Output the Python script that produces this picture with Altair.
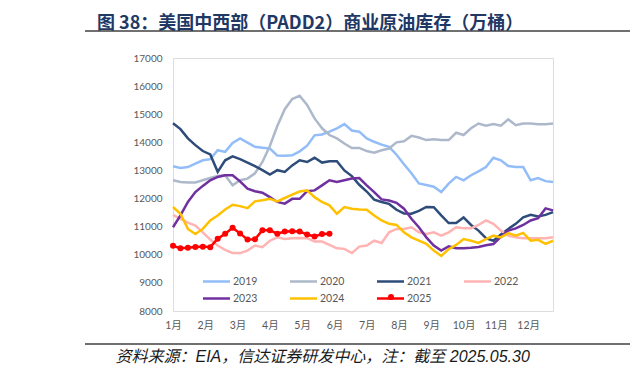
import json
import altair as alt
import pandas as pd

years = ["2019", "2020", "2021", "2022", "2023", "2024", "2025"]
colors = ["#92BDF8", "#ADB9CA", "#2E4C7A", "#FFB3B3", "#7030A0", "#FFC000", "#FF0000"]
month_labels = ["1月", "2月", "3月", "4月", "5月", "6月", "7月", "8月", "9月", "10月", "11月", "12月"]
y_ticks = [8000, 9000, 10000, 11000, 12000, 13000, 14000, 15000, 16000, 17000]

s2019 = [13150, 13090, 13120, 13240, 13360, 13400, 13720, 13660, 13980, 14140, 13990, 13840, 13810,
         13780, 13530, 13520, 13540, 13680, 13880, 14250, 14280, 14380, 14500, 14650, 14420, 14380,
         14140, 14020, 13920, 13840, 13560, 13220, 12900, 12540, 12480, 12420, 12230, 12530, 12770,
         12650, 12830, 12970, 13120, 13450, 13360, 13160, 13120, 13120, 12650, 12730, 12620, 12590]
s2020 = [12650, 12590, 12570, 12570, 12650, 12730, 12800, 12830, 12470, 12650, 12710, 12900, 13300,
         13870, 14580, 15180, 15540, 15660, 15330, 14850, 14500, 14260, 14140, 13960, 13800, 13800,
         13690, 13630, 13720, 13780, 14000, 14040, 14230, 14170, 14080, 14110, 14080, 14080, 14340,
         14260, 14500, 14670, 14590, 14650, 14590, 14820, 14610, 14670, 14670, 14640, 14640, 14670]
s2021 = [14680, 14470, 14140, 13900, 13690, 13570, 12950, 13360, 13500, 13400, 13280, 13150, 13010,
         12850, 13010, 12950, 13180, 13360, 13300, 13450, 13280, 13330, 13330, 13000, 12800, 12490,
         12250, 11960, 11880, 11810, 11600, 11470, 11460, 11560, 11700, 11690, 11400, 11130, 11130,
         11330, 11060, 10860, 10590, 10500, 10720, 10920, 11100, 11330, 11420, 11360, 11420, 11520]
s2022 = [11420, 11280, 11140, 11040, 10800, 10540, 10330, 10170, 10060, 10060, 10150, 10330, 10270,
         10500, 10620, 10560, 10590, 10600, 10590, 10470, 10470, 10350, 10230, 10210, 10060, 10290,
         10330, 10500, 10420, 10800, 10920, 10920, 10980, 10800, 10740, 10800, 10680, 10800, 10980,
         10940, 10940, 11060, 11220, 11100, 10860, 10680, 10620, 10590, 10590, 10590, 10590, 10620]
s2023 = [10980, 11400, 11880, 12230, 12450, 12650, 12770, 12830, 12830, 12610, 12350, 12260, 12210,
         12050, 11880, 11820, 11990, 11990, 12260, 12290, 12470, 12650, 12590, 12650, 12710, 12730,
         12470, 12230, 11970, 11930, 11850, 11640, 11280, 10980, 10620, 10330, 10150, 10300, 10230,
         10230, 10250, 10280, 10340, 10380, 10640, 10860, 10940, 11060, 11220, 11300, 11650, 11580]
s2024 = [11700, 11460, 10920, 10740, 10920, 11220, 11400, 11610, 11780, 11730, 11660, 11900, 11940,
         11990, 11900, 12020, 12140, 12250, 12290, 12050, 11880, 11760, 11460, 11700, 11640, 11610,
         11600, 11400, 11220, 11100, 11060, 10800, 10620, 10500, 10390, 10150, 9960, 10200, 10350,
         10560, 10500, 10420, 10560, 10680, 10620, 10770, 10680, 10780, 10500, 10530, 10390, 10500]
s2025 = [10320, 10230, 10250, 10280, 10290, 10270, 10570, 10750, 10960, 10760, 10540, 10550, 10870,
         10870, 10750, 10830, 10840, 10830, 10720, 10650, 10740, 10750]

series = [s2019, s2020, s2021, s2022, s2023, s2024, s2025]

title_text = "图 38：美国中西部（PADD2）商业原油库存（万桶）"
source_text = "资料来源：EIA，信达证券研发中心，注：截至 2025.05.30"

rows = []
for yr, vals in zip(years, series):
    for w, v in enumerate(vals):
        rows.append({"week": w, "value": v, "year": yr})
df = pd.DataFrame(rows)

weeks_per_year = 52
month_ticks = [i * weeks_per_year / 12 for i in range(12)]
label_expr = json.dumps(month_labels, ensure_ascii=False) + "[round(datum.value*12/52)]"

num_font = "Lato, 'Noto Sans CJK SC'"
grey = "#595959"
last = years[-1]

x_enc = alt.X(
    "week:Q",
    scale=alt.Scale(domain=[0, 51], nice=False, zero=False),
    axis=alt.Axis(
        values=month_ticks, labelExpr=label_expr, grid=False, ticks=False, domain=False,
        labelFont=num_font, labelFontSize=10.5, labelColor=grey, labelPadding=9,
        labelFlush=False, labelOverlap=False,
        title=source_text, titleFont="'Liberation Sans', 'Noto Sans CJK SC'",
        titleFontStyle="italic", titleFontWeight="normal", titleFontSize=16,
        titleColor="#1a1a1a", titleX=-58, titleY=45, titleAlign="left",
        titleBaseline="middle",
    ),
)
y_enc = alt.Y(
    "value:Q",
    scale=alt.Scale(domain=[8000, 17000], nice=False, zero=False),
    axis=alt.Axis(
        values=y_ticks, format="d", grid=False, ticks=False, domain=False,
        labelFont=num_font, labelFontSize=10, labelColor=grey, labelPadding=11,
        title=None,
    ),
)

LINE = "M-2.7,0H2.7"

legend = alt.Legend(
    title=None, orient="none", legendX=37, legendY=217, direction="horizontal",
    columns=4, symbolSize=100, symbolStrokeWidth=2.5, symbolType=LINE,
    labelFont=num_font, labelFontSize=10.5, labelColor=grey, labelOffset=10,
    columnPadding=27, rowPadding=5, padding=0,
)
dot_legend = alt.Legend(
    title=None, orient="none", legendX=213, legendY=234, symbolSize=36,
    symbolFillColor=colors[-1], symbolStrokeColor=colors[-1], symbolStrokeWidth=0,
    labelExpr="''", padding=0, labelOffset=0,
)

lines = alt.Chart(df).mark_line(strokeWidth=2.5).encode(
    x=x_enc, y=y_enc,
    color=alt.Color("year:N", scale=alt.Scale(domain=years, range=colors), legend=legend),
)
points = alt.Chart(df).transform_filter(f"datum.year == '{last}'").mark_point(
    filled=True, size=36, opacity=1, color=colors[-1]
).encode(
    x=x_enc, y=y_enc,
    shape=alt.Shape("year:N", scale=alt.Scale(domain=[last], range=["circle"]), legend=dot_legend),
)

one = pd.DataFrame({"k": [0]})
top_rule = alt.Chart(one).mark_rule(color="#404040", strokeWidth=1.5).encode(
    x=alt.value(-88), x2=alt.value(457), y=alt.value(-27)
)
bottom_rule = alt.Chart(one).mark_rule(color="#404040", strokeWidth=1.5).encode(
    x=alt.value(-88), x2=alt.value(457), y=alt.value(286)
)

chart = alt.layer(lines, points, top_rule, bottom_rule).properties(
    width=380, height=253,
    autosize=alt.AutoSizeParams(type="none"),
    padding={"left": 165, "top": 50, "right": 77, "bottom": 55},
    title=alt.TitleParams(
        text=title_text, anchor="start", frame="group", dx=-76, dy=21, offset=4,
        baseline="alphabetic", fontSize=18, fontWeight="bold", color="#1F3864",
        font="'Noto Sans CJK SC'",
    ),
).configure_view(stroke="#404040", strokeWidth=1.5).configure(background="white")

chart.save("out.html", embed_options={"renderer": "svg", "actions": False})
